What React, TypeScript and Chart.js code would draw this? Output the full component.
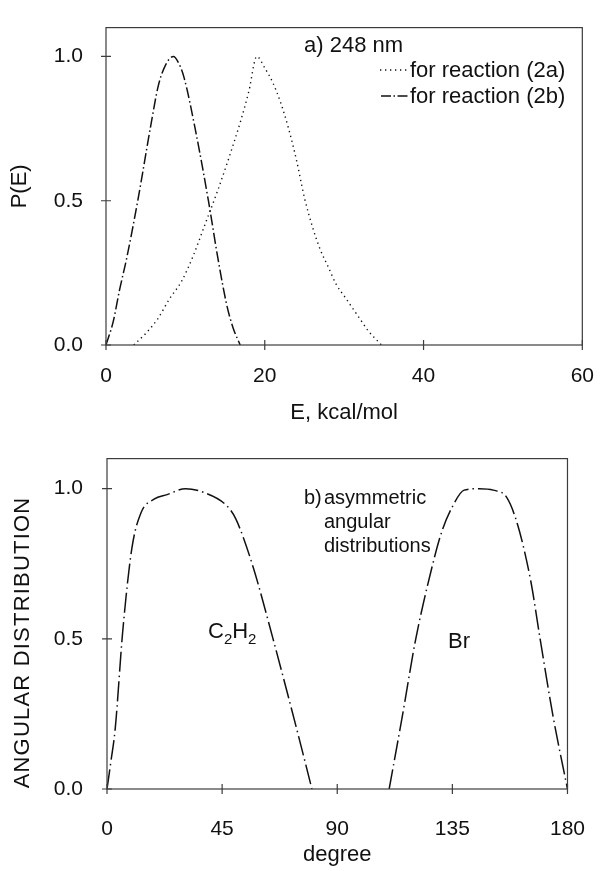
import React, { useEffect, useRef } from 'react';
import { Chart, registerables } from 'chart.js';

Chart.register(...registerables);

const FONT = '"Liberation Sans", Arial, Helvetica, sans-serif';
const INK = '#111111';

// ---------- Panel a) P(E) vs E ----------
const E_2A = [3.5, 5, 6.5, 8, 9.5, 11, 12.5, 14, 15.5, 17, 18, 19, 20, 21, 22, 23, 24, 25, 26, 27, 28, 29, 30, 31, 32, 33, 34, 34.7];
const P_2A = [0, 0.04, 0.09, 0.16, 0.22, 0.31, 0.42, 0.53, 0.65, 0.78, 0.88, 1.0, 0.96, 0.91, 0.84, 0.75, 0.64, 0.51, 0.41, 0.33, 0.27, 0.21, 0.17, 0.13, 0.09, 0.05, 0.02, 0];

const E_2B = [0, 0.9, 1.7, 2.6, 4, 5.7, 6.6, 7.5, 8.5, 9.0, 9.8, 11.3, 12.9, 14.1, 15.2, 16.0, 16.9];
const P_2B = [0, 0.08, 0.19, 0.3, 0.5, 0.77, 0.9, 0.97, 1.0, 0.985, 0.93, 0.74, 0.5, 0.3, 0.14, 0.06, 0];

const X_TICKS_A = [0, 20, 40, 60];
const Y_TICKS = [0, 0.5, 1.0];

// ---------- Panel b) angular distributions ----------
const DEG_C2H2 = [0, 1.5, 3.2, 6.1, 9.7, 13.3, 18.4, 23.5, 30.7, 38, 46.7, 50.3, 56.9, 64.8, 74.3, 80.1];
const ANG_C2H2 = [0, 0.09, 0.2, 0.52, 0.8, 0.92, 0.965, 0.98, 1.0, 0.987, 0.944, 0.9, 0.745, 0.503, 0.195, 0];

const DEG_BR = [110.3, 115.6, 120.7, 126.5, 130.8, 135.2, 139.6, 145.4, 151, 156.3, 160.6, 165.7, 169.3, 174.4, 180];
const ANG_BR = [0, 0.25, 0.5, 0.72, 0.855, 0.943, 0.995, 1.0, 0.995, 0.97, 0.877, 0.69, 0.5, 0.24, 0];

const X_TICKS_B = [0, 45, 90, 135, 180];

const DOTTED = [1.3, 3.7];
const DASHDOT_A = [11, 3, 1.5, 3];
const DASHDOT_B = [20, 4, 1.5, 4];

const toPts = (xs: number[], ys: number[]) => xs.map((x, i) => ({ x, y: ys[i] }));

const framePlugin = {
  id: 'frameTicks',
  afterDatasetsDraw(chart: any) {
    const { ctx, chartArea: a, scales } = chart;
    ctx.save();
    ctx.strokeStyle = '#3c3c3c';
    ctx.lineWidth = 1.2;
    ctx.setLineDash([]);
    ctx.strokeRect(a.left, a.top, a.right - a.left, a.bottom - a.top);
    const tl = 5;
    ctx.beginPath();
    scales.x.ticks.forEach((t: any) => {
      const x = scales.x.getPixelForValue(t.value);
      ctx.moveTo(x, a.bottom - tl);
      ctx.lineTo(x, a.bottom + tl);
    });
    scales.y.ticks.forEach((t: any) => {
      const y = scales.y.getPixelForValue(t.value);
      ctx.moveTo(a.left - tl, y);
      ctx.lineTo(a.left + tl, y);
    });
    ctx.stroke();
    ctx.restore();
  },
};

const annotA = {
  id: 'annotA',
  afterDraw(chart: any) {
    const { ctx } = chart;
    ctx.save();
    ctx.fillStyle = INK;
    ctx.font = `22px ${FONT}`;
    ctx.textAlign = 'left';
    ctx.textBaseline = 'alphabetic';
    ctx.fillText('a) 248 nm', 304, 52);
    ctx.fillText('for reaction (2a)', 410, 77);
    ctx.fillText('for reaction (2b)', 410, 103);
    ctx.strokeStyle = INK;
    ctx.lineWidth = 1.4;
    ctx.setLineDash(DOTTED);
    ctx.beginPath();
    ctx.moveTo(380, 70);
    ctx.lineTo(408, 70);
    ctx.stroke();
    ctx.setLineDash([10, 2.5, 1.5, 2.5]);
    ctx.beginPath();
    ctx.moveTo(381, 96);
    ctx.lineTo(408, 96);
    ctx.stroke();
    ctx.restore();
  },
};

const annotB = {
  id: 'annotB',
  afterDraw(chart: any) {
    const { ctx } = chart;
    ctx.save();
    ctx.fillStyle = INK;
    ctx.font = `20px ${FONT}`;
    ctx.textBaseline = 'alphabetic';
    ctx.textAlign = 'left';
    ctx.fillText('b)', 304, 74);
    ctx.fillText('asymmetric', 324, 74);
    ctx.fillText('angular', 324, 98);
    ctx.fillText('distributions', 324, 122);
    // C2H2 label
    let x = 208;
    const big = `22px ${FONT}`;
    const small = `15px ${FONT}`;
    const parts: [string, string, number][] = [
      ['C', big, 0],
      ['2', small, 6],
      ['H', big, 0],
      ['2', small, 6],
    ];
    parts.forEach(([t, f, dy]) => {
      ctx.font = f;
      ctx.fillText(t, x, 208 + dy);
      x += ctx.measureText(t).width;
    });
    ctx.font = big;
    ctx.fillText('Br', 448, 218);
    // rotated y title
    ctx.save();
    ctx.translate(23, 212.5);
    ctx.rotate(-Math.PI / 2);
    ctx.textAlign = 'center';
    ctx.textBaseline = 'middle';
    (ctx as any).letterSpacing = '1.2px';
    ctx.font = `22px ${FONT}`;
    ctx.fillText('ANGULAR DISTRIBUTION', 0, 0);
    ctx.restore();
    ctx.restore();
  },
};

function makeConfig(opts: {
  datasets: any[];
  xMax: number;
  xTicks: number[];
  xTitle: string;
  yTitle: string | null;
  pad: { top: number; right: number };
  yWidth: number;
  xHeight: number;
  xTickPad: number;
  yTickPad: number;
  xTitlePadBottom: number;
  plugins: any[];
}) {
  return {
    type: 'line' as const,
    data: { datasets: opts.datasets },
    plugins: [framePlugin, ...opts.plugins],
    options: {
      responsive: false,
      animation: false as const,
      events: [],
      layout: { padding: { left: 0, top: opts.pad.top, right: opts.pad.right, bottom: 0 } },
      plugins: { legend: { display: false }, tooltip: { enabled: false } },
      elements: { point: { radius: 0 } },
      scales: {
        x: {
          type: 'linear' as const,
          min: 0,
          max: opts.xMax,
          grid: { display: false },
          border: { display: false },
          afterBuildTicks: (s: any) => {
            s.ticks = opts.xTicks.map((v) => ({ value: v }));
          },
          afterFit: (s: any) => {
            s.height = opts.xHeight;
          },
          ticks: {
            padding: opts.xTickPad,
            color: INK,
            font: { size: 21, family: FONT },
            maxRotation: 0,
            callback: (v: any) => String(v),
          },
          title: {
            display: true,
            text: opts.xTitle,
            color: INK,
            font: { size: 22, family: FONT },
            padding: { top: 0, bottom: opts.xTitlePadBottom },
          },
        },
        y: {
          type: 'linear' as const,
          min: 0,
          max: 1.1,
          grid: { display: false },
          border: { display: false },
          afterBuildTicks: (s: any) => {
            s.ticks = Y_TICKS.map((v) => ({ value: v }));
          },
          afterFit: (s: any) => {
            s.width = opts.yWidth;
          },
          ticks: {
            padding: opts.yTickPad,
            color: INK,
            font: { size: 21, family: FONT },
            callback: (v: any) => Number(v).toFixed(1),
          },
          title: {
            display: !!opts.yTitle,
            text: opts.yTitle || '',
            color: INK,
            font: { size: 22, family: FONT },
            padding: { top: 7, bottom: 0 },
          },
        },
      },
    },
  };
}

export default function App() {
  const refA = useRef<HTMLCanvasElement>(null);
  const refB = useRef<HTMLCanvasElement>(null);

  useEffect(() => {
    document.body.style.margin = '0';
    document.body.style.background = '#ffffff';
    Chart.defaults.font.family = FONT;
    Chart.defaults.color = INK;

    const lineBase = {
      borderColor: INK,
      borderWidth: 1.5,
      pointRadius: 0,
      fill: false,
      cubicInterpolationMode: 'monotone' as const,
    };

    const chartA = new Chart(
      refA.current!,
      makeConfig({
        datasets: [
          { ...lineBase, label: 'for reaction (2a)', data: toPts(E_2A, P_2A), borderDash: DOTTED, borderWidth: 1.4 },
          { ...lineBase, label: 'for reaction (2b)', data: toPts(E_2B, P_2B), borderDash: DASHDOT_A },
        ],
        xMax: 60,
        xTicks: X_TICKS_A,
        xTitle: 'E, kcal/mol',
        yTitle: 'P(E)',
        pad: { top: 12, right: 17 },
        yWidth: 106,
        xHeight: 85,
        xTickPad: 11,
        yTickPad: 15,
        xTitlePadBottom: 4,
        plugins: [annotA],
      }) as any
    );

    const chartB = new Chart(
      refB.current!,
      makeConfig({
        datasets: [
          { ...lineBase, label: 'C2H2', data: toPts(DEG_C2H2, ANG_C2H2), borderDash: DASHDOT_B },
          { ...lineBase, label: 'Br', data: toPts(DEG_BR, ANG_BR), borderDash: DASHDOT_B },
        ],
        xMax: 180,
        xTicks: X_TICKS_B,
        xTitle: 'degree',
        yTitle: null,
        pad: { top: 25, right: 18 },
        yWidth: 107,
        xHeight: 82,
        xTickPad: 20,
        yTickPad: 16,
        xTitlePadBottom: 3,
        plugins: [annotB],
      }) as any
    );

    return () => {
      chartA.destroy();
      chartB.destroy();
    };
  }, []);

  return (
    <div style={{ position: 'absolute', left: 0, top: 0, width: 605, height: 871, background: '#fff' }}>
      <canvas ref={refA} width={605} height={430} style={{ position: 'absolute', left: 0, top: 0, display: 'block' }} />
      <canvas ref={refB} width={605} height={441} style={{ position: 'absolute', left: 0, top: 430, display: 'block' }} />
    </div>
  );
}
